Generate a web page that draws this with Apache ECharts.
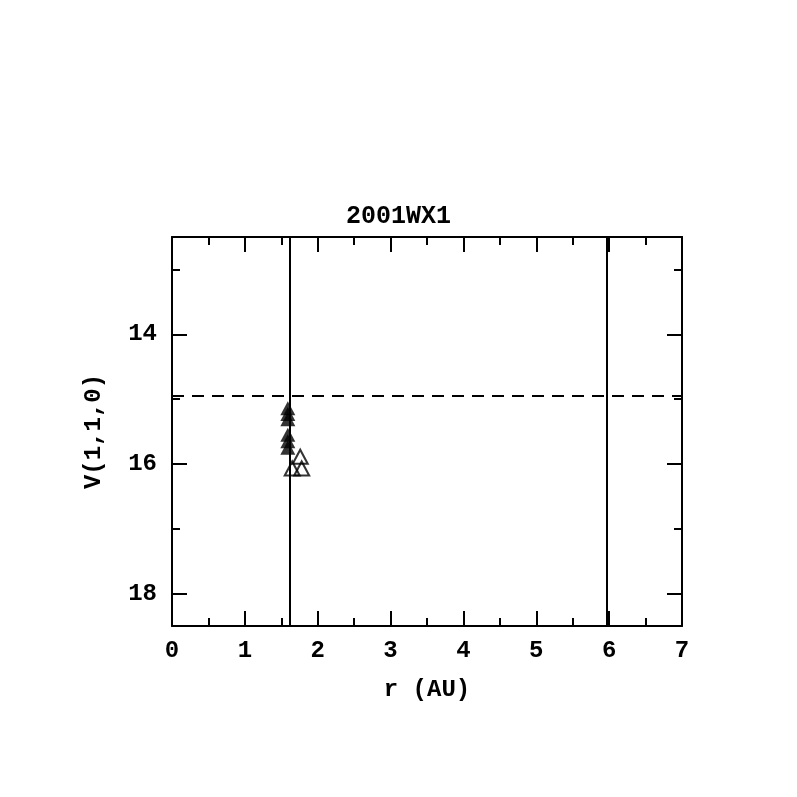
<!DOCTYPE html>
<html><head><meta charset="utf-8">
<script src="https://cdn.jsdelivr.net/npm/echarts@6/dist/echarts.min.js"></script>
<style>html,body{margin:0;padding:0;background:#fff}#c{width:797px;height:797px}</style>
</head><body><div id="c"></div>
<script>
const titleText = '2001WX1';
const xName = 'r (AU)';
const yName = 'V(1,1,0)';
const filledPts = [[1.59,15.14],[1.59,15.23],[1.59,15.31],[1.59,15.55],[1.59,15.65],[1.59,15.75]];
const openPts = [[1.76,15.89],[1.65,16.07],[1.78,16.07]];
const vLines = [1.62, 5.97];
const hLines = [14.95];
const yMajor = [14,16,18];
const yMinor = [13,15,17];
const yLabels = [14,16,18];

const F = 'Liberation Mono';
const chart = echarts.init(document.getElementById('c'));
const axLine = {show:true, lineStyle:{color:'#000', width:2}};
const lab = {fontFamily:F, fontSize:24, fontWeight:'bold', color:'#000'};
function yAx(pos, ticks, len, labels, line){
  return {type:'value', position:pos, min:12.5, max:18.5, inverse:true,
    axisLine: line ? axLine : {show:false},
    axisTick:{show:true, inside:true, length:len, customValues:ticks, lineStyle:{color:'#000', width:2}},
    axisLabel: labels ? Object.assign({show:true, customValues:yLabels, margin:15}, lab) : {show:false},
    splitLine:{show:false},
    name: labels ? yName : '', nameLocation:'middle', nameGap:66, nameRotate:90,
    nameTextStyle: Object.assign({}, lab)};
}
chart.setOption({
  animation:false,
  title:{text:titleText, left:'center', top:199, textStyle:Object.assign({}, lab, {fontSize:25})},
  grid:{left:172, right:115, top:237, bottom:171},
  xAxis:[
    {type:'value', position:'bottom', min:0, max:7, interval:1,
     axisLine:axLine,
     axisTick:{show:true, inside:true, length:15, lineStyle:{color:'#000', width:2}},
     minorTick:{show:true, splitNumber:2, length:8, lineStyle:{color:'#000', width:2}},
     axisLabel:Object.assign({margin:13}, lab),
     splitLine:{show:false},
     name:xName, nameLocation:'middle', nameGap:52, nameTextStyle:Object.assign({}, lab)},
    {type:'value', position:'top', min:0, max:7, interval:1,
     axisLine:axLine,
     axisTick:{show:true, inside:true, length:15, lineStyle:{color:'#000', width:2}},
     minorTick:{show:true, splitNumber:2, length:8, lineStyle:{color:'#000', width:2}},
     axisLabel:{show:false}, splitLine:{show:false}}
  ],
  yAxis:[
    yAx('left', yMajor, 15, true, true),
    yAx('left', yMinor, 8, false, false),
    yAx('right', yMajor, 15, false, true),
    yAx('right', yMinor, 8, false, false)
  ],
  series:[
    {type:'scatter', data:filledPts, symbol:'triangle', symbolSize:[15,14],
     itemStyle:{color:'#000'}, z:5,
     markLine:{silent:true, symbol:'none', label:{show:false},
       lineStyle:{color:'#000', width:2, type:'solid'},
       data: vLines.map(v=>({xAxis:v}))}},
    {type:'scatter', data:openPts, symbol:'triangle', symbolSize:[15,14],
     itemStyle:{color:'rgba(0,0,0,0)', borderColor:'#000', borderWidth:2}, z:5,
     markLine:{silent:true, symbol:'none', label:{show:false},
       lineStyle:{color:'#000', width:2, type:[12,8]},
       data: hLines.map(v=>({yAxis:v}))}}
  ]
});
</script></body></html>
